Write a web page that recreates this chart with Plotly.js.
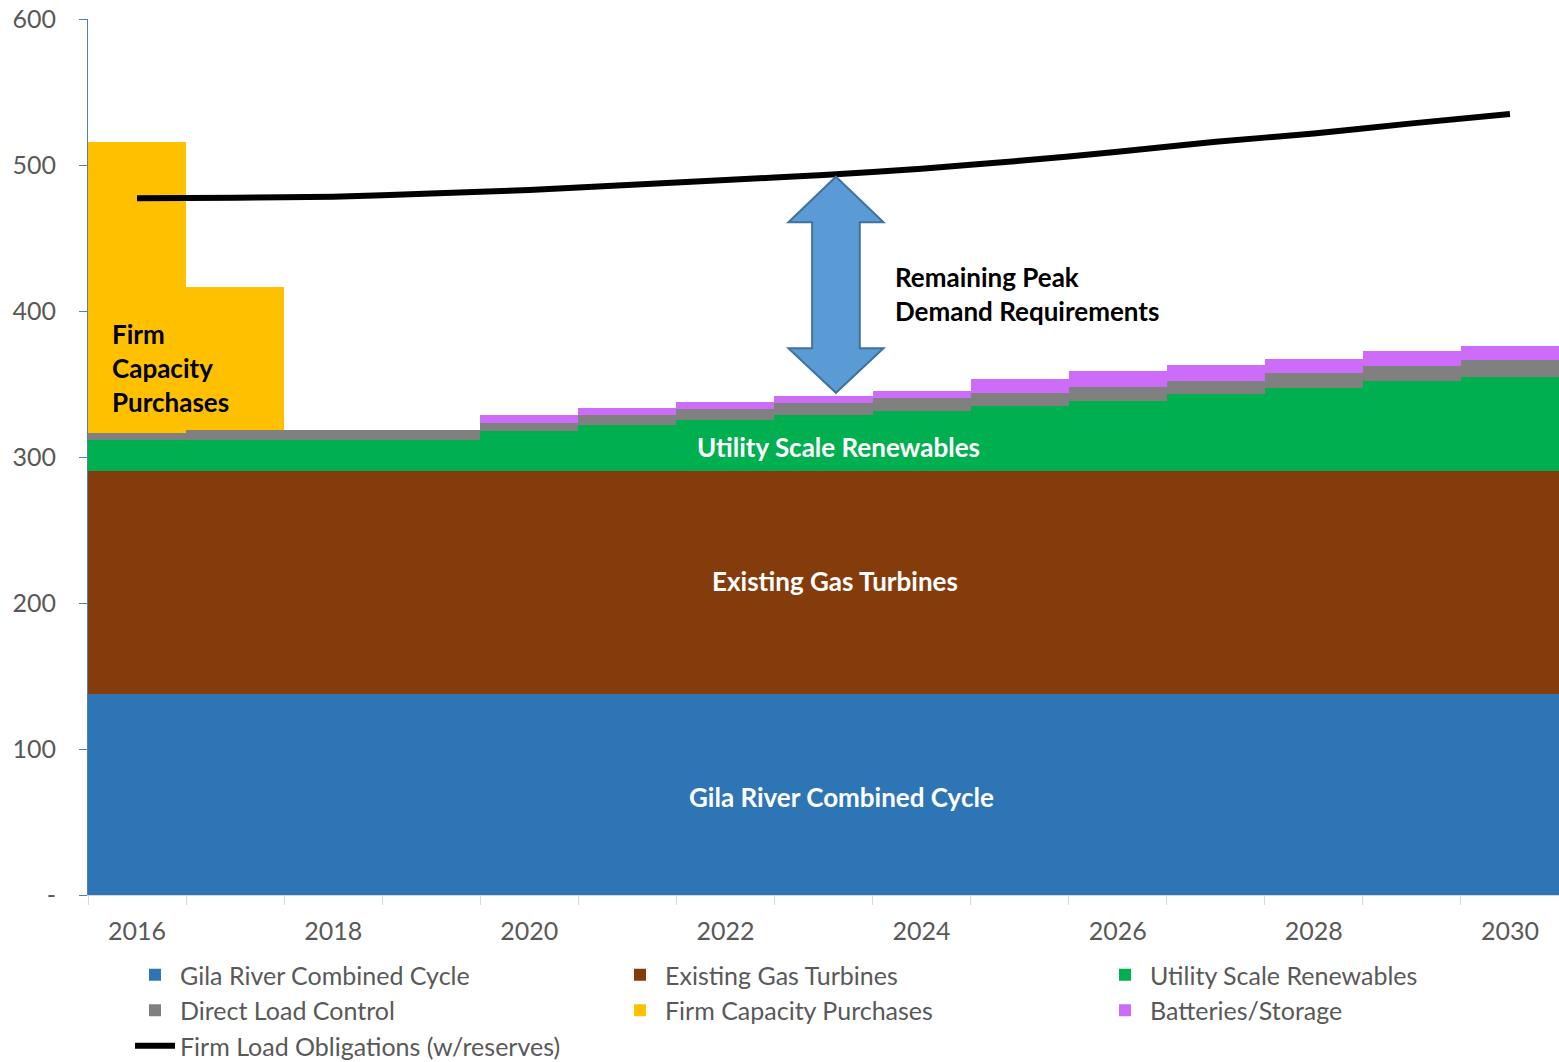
<!DOCTYPE html>
<html>
<head>
<meta charset="utf-8">
<script src="https://cdn.plot.ly/plotly-3.0.1.min.js"></script>
<style>html,body{margin:0;padding:0;background:#fff;}#chart{width:1559px;height:1062px;}</style>
</head>
<body>
<div id="chart"></div>
<script>
const years = [2016,2017,2018,2019,2020,2021,2022,2023,2024,2025,2026,2027,2028,2029,2030];
const gilaRiver = [137.5,137.5,137.5,137.5,137.5,137.5,137.5,137.5,137.5,137.5,137.5,137.5,137.5,137.5,137.5];
const gasTurbines = [153,153,153,153,153,153,153,153,153,153,153,153,153,153,153];
const renewables = [21,21,21,21,27,31.4,34.8,38.3,41.2,44.1,47.9,52.9,56.8,61.6,64.5];
const directLoadControl = [4.8,6.9,6.9,6.9,6.1,6.9,7.3,8.0,8.9,8.9,9.5,8.7,10.4,10.4,11.4];
const firmPurchases = [199.5,98,0,0,0,0,0,0,0,0,0,0,0,0,0];
const batteries = [0,0,0,0,5.4,4.9,5.1,4.7,4.6,9.7,10.8,10.7,9.6,9.9,9.8];
const firmLoad = [477.2,477.6,478.3,480.5,482.9,486.3,489.7,493.2,497.5,502.9,509,515.9,521.6,528.5,535];
const xTickYears = [2016,2018,2020,2022,2024,2026,2028,2030];
const yTickVals = [0,100,200,300,400,500,600];
const yTickText = ['-','100','200','300','400','500','600'];

const FONT = 'Lato, "Open Sans", sans-serif';
const grey = '#595959';

function bar(name, y, color, lg) {
  return {type:'bar', name:name, x:years, y:y, marker:{color:color, line:{width:0}},
          legend:lg, legendgroup:name, hoverinfo:'x+y+name'};
}
const data = [
  bar('Gila River Combined Cycle', gilaRiver, '#2E75B6', 'legend'),
  bar('Existing Gas Turbines', gasTurbines, '#843C0C', 'legend2'),
  bar('Utility Scale Renewables', renewables, '#00B050', 'legend3'),
  bar('Direct Load Control', directLoadControl, '#808080', 'legend'),
  bar('Firm Capacity Purchases', firmPurchases, '#FFC000', 'legend2'),
  bar('Batteries/Storage', batteries, '#CC6CF8', 'legend3'),
  {type:'scatter', mode:'lines', name:'Firm Load Obligations (w/reserves)', x:years, y:firmLoad,
   legend:'legend', legendgroup:'load',
   line:{color:'#000000', width:6, shape:'spline', smoothing:0.8}}
];

// double arrow path (annotation graphic)
const cx = 2023.127, sh = 0.243, hh = 0.485;
const yTop = 492, yHeadTop = 460.8, yHeadBot = 374.5, yBot = 344.0;
const arrowPath = `M ${cx} ${yTop} L ${cx+hh} ${yHeadTop} L ${cx+sh} ${yHeadTop} L ${cx+sh} ${yHeadBot} L ${cx+hh} ${yHeadBot} L ${cx} ${yBot} L ${cx-hh} ${yHeadBot} L ${cx-sh} ${yHeadBot} L ${cx-sh} ${yHeadTop} L ${cx-hh} ${yHeadTop} Z`;

const boldWhite = {family:FONT, size:26, color:'#ffffff', weight:'bold'};
const boldBlack = {family:FONT, size:26, color:'#000000', weight:'bold'};

function legendAt(xpx) {
  return {
    orientation:'v', traceorder:'normal', xref:'container', x:xpx/1559, xanchor:'left',
    yref:'container', y:1-952/1062, yanchor:'top',
    font:{family:FONT, size:25, color:grey}, itemwidth:40, tracegroupgap:2,
    bgcolor:'rgba(0,0,0,0)', borderwidth:0
  };
}

const layout = {
  width:1559, height:1062,
  margin:{l:88, r:0, t:19, b:167, autoexpand:false},
  paper_bgcolor:'#ffffff', plot_bgcolor:'#ffffff',
  barmode:'stack', bargap:0,
  showlegend:true,
  font:{family:FONT, color:grey, size:25},
  xaxis:{
    range:[2015.5, 2030.5], tickvals:xTickYears, ticktext:xTickYears.map(String),
    ticks:'', showgrid:false, zeroline:false, showline:true, linecolor:'#D9D9D9', linewidth:1,
    tickfont:{family:FONT, size:25, color:grey}, ticklabelstandoff:14,
    minor:{tick0:2015.5, dtick:1, ticks:'outside', ticklen:9, tickcolor:'#D9D9D9', tickwidth:1, showgrid:false}
  },
  yaxis:{
    range:[0,600], tickvals:yTickVals, ticktext:yTickText,
    ticks:'outside', ticklen:8, tickcolor:'#4F81BD', showgrid:false, zeroline:false,
    showline:true, linecolor:'#4F81BD', linewidth:1,
    tickfont:{family:FONT, size:25, color:grey}, ticklabelstandoff:18
  },
  legend: legendAt(130),
  legend2: legendAt(615),
  legend3: legendAt(1100),
  shapes:[
    {type:'path', xref:'x', yref:'y', path:arrowPath, fillcolor:'#5B9BD5', line:{color:'#41719C', width:2}, layer:'above'}
  ],
  annotations:[
    {xref:'x', yref:'y', x:2023.18, y:67, text:'Gila River Combined Cycle', showarrow:false, font:boldWhite},
    {xref:'x', yref:'y', x:2023.12, y:215, text:'Existing Gas Turbines', showarrow:false, font:boldWhite},
    {xref:'x', yref:'y', x:2023.15, y:307, text:'Utility Scale Renewables', showarrow:false, font:boldWhite},
    {xref:'x', yref:'y', x:2015.72, y:361, text:'Firm<br>Capacity<br>Purchases', showarrow:false, xanchor:'left', align:'left', font:boldBlack},
    {xref:'x', yref:'y', x:2023.71, y:411.6, text:'Remaining Peak<br>Demand Requirements', showarrow:false, xanchor:'left', align:'left', font:boldBlack}
  ]
};

Plotly.newPlot('chart', data, layout, {displayModeBar:false, staticPlot:true});
</script>
</body>
</html>
